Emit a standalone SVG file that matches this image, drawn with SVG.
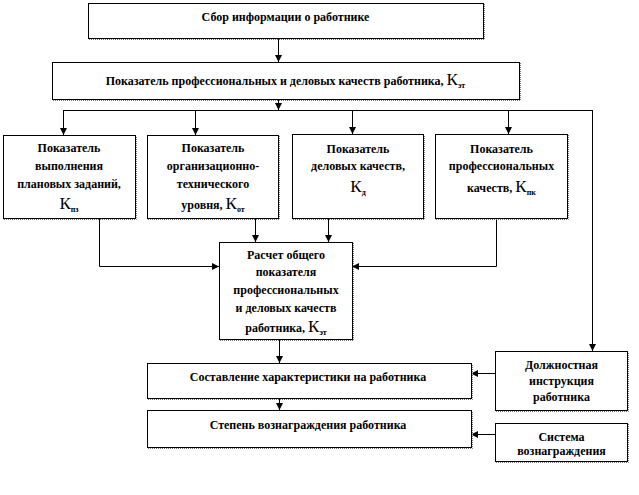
<svg xmlns="http://www.w3.org/2000/svg" width="639" height="495" viewBox="0 0 639 495">
<defs>
<style>
.box{fill:#fff;stroke:#000;stroke-width:1}
.sh{fill:none;stroke:#777;stroke-width:1;stroke-dasharray:1 1}
.t{font-family:"Liberation Serif","Times New Roman",serif;font-weight:bold;font-size:12px;fill:#000;text-anchor:middle}
.k{font-size:17px;font-weight:normal}
.s{font-size:8px}
.c{fill:none;stroke:#000;stroke-width:1}
</style>
<marker id="ah" viewBox="0 0 8 8" refX="8" refY="4" markerWidth="7" markerHeight="7" markerUnits="userSpaceOnUse" orient="auto">
<path d="M0,0 L8,4 L0,8 Z" fill="#000"/>
</marker>
</defs>
<rect width="639" height="495" fill="#fff"/>
<g id="connectors">
<path class="c" d="M278.5,38 V62" marker-end="url(#ah)"/>
<path class="c" d="M278.5,99 V110" marker-end="url(#ah)"/>
<path class="c" d="M63.5,110.5 H592.5"/>
<path class="c" d="M63.5,110 V135" marker-end="url(#ah)"/>
<path class="c" d="M195.5,110 V135" marker-end="url(#ah)"/>
<path class="c" d="M352.5,110 V134" marker-end="url(#ah)"/>
<path class="c" d="M508.5,110 V134" marker-end="url(#ah)"/>
<path class="c" d="M592.5,110 V351" marker-end="url(#ah)"/>
<path class="c" d="M99.5,218 V266.5 H219" marker-end="url(#ah)"/>
<path class="c" d="M255.5,218 V242" marker-end="url(#ah)"/>
<path class="c" d="M328.5,218 V242" marker-end="url(#ah)"/>
<path class="c" d="M496.5,218 V266.5 H352" marker-end="url(#ah)"/>
<path class="c" d="M279.5,339 V363" marker-end="url(#ah)"/>
<path class="c" d="M279.5,398 V410" marker-end="url(#ah)"/>
<path class="c" d="M495,373.5 H471" marker-end="url(#ah)"/>
<path class="c" d="M495,434.5 H471" marker-end="url(#ah)"/>
</g>
<g id="n1">
<rect class="box" x="88.5" y="3.5" width="395" height="35"/>
<path class="sh" d="M89,39.5 H484.5 V4"/>
<text class="t" x="285.5" y="21">Сбор информации о работнике</text>
</g>
<g id="n2">
<rect class="box" x="52.5" y="62.5" width="467" height="37"/>
<path class="sh" d="M53,100.5 H520.5 V63"/>
<text class="t" x="285.5" y="85">Показатель  профессиональных и деловых  качеств работника, <tspan class="k">К</tspan><tspan class="s" dy="3">эт</tspan></text>
</g>
<g id="nA">
<rect class="box" x="3.5" y="135.5" width="132" height="83"/>
<path class="sh" d="M4,219.5 H136.5 V136"/>
<text class="t" x="69" y="152">Показатель</text>
<text class="t" x="69" y="170">выполнения</text>
<text class="t" x="69" y="188">плановых заданий,</text>
<text class="t" x="69" y="209"><tspan class="k">К</tspan><tspan class="s" dy="3">пз</tspan></text>
</g>
<g id="nB">
<rect class="box" x="147.5" y="135.5" width="131" height="83"/>
<path class="sh" d="M148,219.5 H279.5 V136"/>
<text class="t" x="213" y="152">Показатель</text>
<text class="t" x="213" y="170">организационно-</text>
<text class="t" x="213" y="188">технического</text>
<text class="t" x="213" y="209">уровня, <tspan class="k">К</tspan><tspan class="s" dy="3">от</tspan></text>
</g>
<g id="nC">
<rect class="box" x="292.5" y="134.5" width="131" height="84"/>
<path class="sh" d="M293,219.5 H424.5 V135"/>
<text class="t" x="358" y="153">Показатель</text>
<text class="t" x="358" y="170">деловых  качеств,</text>
<text class="t" x="358" y="192"><tspan class="k">К</tspan><tspan class="s" dy="3">д</tspan></text>
</g>
<g id="nD">
<rect class="box" x="435.5" y="134.5" width="132" height="84"/>
<path class="sh" d="M436,219.5 H568.5 V135"/>
<text class="t" x="501.5" y="153">Показатель</text>
<text class="t" x="501.5" y="170">профессиональных</text>
<text class="t" x="501.5" y="192">качеств, <tspan class="k">К</tspan><tspan class="s" dy="3">пк</tspan></text>
</g>
<g id="nCenter">
<rect class="box" x="219.5" y="242.5" width="133" height="97"/>
<path class="sh" d="M220,340.5 H353.5 V243"/>
<text class="t" x="286" y="259">Расчет общего</text>
<text class="t" x="286" y="276">показателя</text>
<text class="t" x="286" y="294">профессиональных</text>
<text class="t" x="286" y="312">и деловых  качеств</text>
<text class="t" x="286" y="332">работника, <tspan class="k">К</tspan><tspan class="s" dy="3">эт</tspan></text>
</g>
<g id="nChar">
<rect class="box" x="147.5" y="363.5" width="324" height="35"/>
<path class="sh" d="M148,399.5 H472.5 V364"/>
<text class="t" x="308" y="381">Составление  характеристики  на работника</text>
</g>
<g id="nReward">
<rect class="box" x="147.5" y="410.5" width="324" height="37"/>
<path class="sh" d="M148,448.5 H472.5 V411"/>
<text class="t" x="308" y="429">Степень  вознаграждения  работника</text>
</g>
<g id="nJob">
<rect class="box" x="495.5" y="351.5" width="132" height="59"/>
<path class="sh" d="M496,411.5 H628.5 V352"/>
<text class="t" x="561.5" y="369">Должностная</text>
<text class="t" x="561.5" y="385">инструкция</text>
<text class="t" x="561.5" y="401">работника</text>
</g>
<g id="nSys">
<rect class="box" x="495.5" y="423.5" width="132" height="38"/>
<path class="sh" d="M496,462.5 H628.5 V424"/>
<text class="t" x="561.5" y="441">Система</text>
<text class="t" x="561.5" y="455">вознаграждения</text>
</g>
</svg>
